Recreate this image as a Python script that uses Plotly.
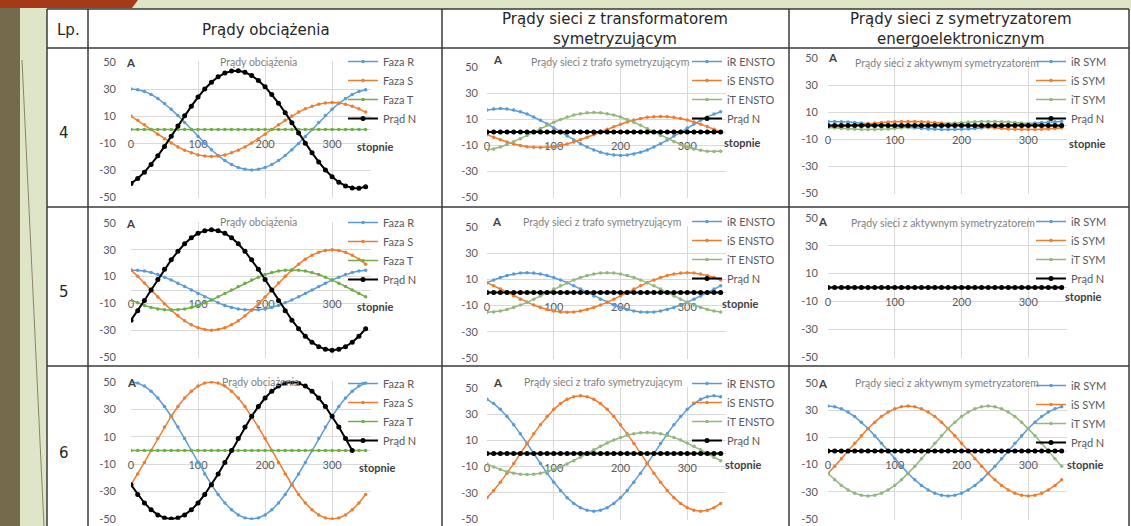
import plotly.graph_objects as go

W, H = 1131, 526

degrees = [0, 10, 20, 30, 40, 50, 60, 70, 80, 90, 100, 110, 120, 130, 140, 150, 160, 170,
           180, 190, 200, 210, 220, 230, 240, 250, 260, 270, 280, 290, 300, 310, 320, 330, 340, 350]
x_ticks = [0, 100, 200, 300]
y_ticks = [-50, -30, -10, 10, 30, 50]
y_tick_text = ["-50", "-30", "-10", "10", "30", "50"]

# ---------------- Row 4 ----------------
load4_R = [30, 29.5, 28.2, 26, 23, 19.3, 15, 10.3, 5.2, 0, -5.2, -10.3, -15, -19.3, -23, -26, -28.2, -29.5,
           -30, -29.5, -28.2, -26, -23, -19.3, -15, -10.3, -5.2, 0, 5.2, 10.3, 15, 19.3, 23, 26, 28.2, 29.5]
load4_S = [10, 6.8, 3.5, 0, -3.5, -6.8, -10, -12.9, -15.3, -17.3, -18.8, -19.7, -20, -19.7, -18.8, -17.3, -15.3, -12.9,
           -10, -6.8, -3.5, 0, 3.5, 6.8, 10, 12.9, 15.3, 17.3, 18.8, 19.7, 20, 19.7, 18.8, 17.3, 15.3, 12.9]
load4_T = [0, 0, 0, 0, 0, 0, 0, 0, 0, 0, 0, 0, 0, 0, 0, 0, 0, 0,
           0, 0, 0, 0, 0, 0, 0, 0, 0, 0, 0, 0, 0, 0, 0, 0, 0, 0]
load4_N = [-40, -36.3, -31.7, -26, -19.5, -12.5, -5, 2.6, 10.1, 17.3, 24, 30, 35, 39, 41.8, 43.3, 43.5, 42.4,
           40, 36.3, 31.7, 26, 19.5, 12.5, 5, -2.6, -10.1, -17.3, -24, -30, -35, -39, -41.8, -43.3, -43.5, -42.4]

ensto4_R = [16.9, 17.7, 18, 17.7, 16.9, 15.6, 13.8, 11.6, 9, 6.2, 3.1, 0, -3.1, -6.2, -9, -11.6, -13.8, -15.6,
            -16.9, -17.7, -18, -17.7, -16.9, -15.6, -13.8, -11.6, -9, -6.2, -3.1, 0, 3.1, 6.2, 9, 11.6, 13.8, 15.6]
ensto4_S = [-2.1, -4.1, -6, -7.7, -9.2, -10.4, -11.3, -11.8, -12, -11.8, -11.3, -10.4, -9.2, -7.7, -6, -4.1, -2.1, 0,
            2.1, 4.1, 6, 7.7, 9.2, 10.4, 11.3, 11.8, 12, 11.8, 11.3, 10.4, 9.2, 7.7, 6, 4.1, 2.1, 0]
ensto4_T = [-14.1, -13, -11.5, -9.6, -7.5, -5.1, -2.6, 0, 2.6, 5.1, 7.5, 9.6, 11.5, 13, 14.1, 14.8, 15, 14.8,
            14.1, 13, 11.5, 9.6, 7.5, 5.1, 2.6, 0, -2.6, -5.1, -7.5, -9.6, -11.5, -13, -14.1, -14.8, -15, -14.8]
ensto4_N = [0, 0, 0, 0, 0, 0, 0, 0, 0, 0, 0, 0, 0, 0, 0, 0, 0, 0,
            0, 0, 0, 0, 0, 0, 0, 0, 0, 0, 0, 0, 0, 0, 0, 0, 0, 0]

sym4_R = [3, 3, 2.8, 2.6, 2.3, 1.9, 1.5, 1, 0.5, 0, -0.5, -1, -1.5, -1.9, -2.3, -2.6, -2.8, -3,
          -3, -3, -2.8, -2.6, -2.3, -1.9, -1.5, -1, -0.5, 0, 0.5, 1, 1.5, 1.9, 2.3, 2.6, 2.8, 3]
sym4_S = [-1.5, -1, -0.5, 0, 0.5, 1, 1.5, 1.9, 2.3, 2.6, 2.8, 3, 3, 3, 2.8, 2.6, 2.3, 1.9,
          1.5, 1, 0.5, 0, -0.5, -1, -1.5, -1.9, -2.3, -2.6, -2.8, -3, -3, -3, -2.8, -2.6, -2.3, -1.9]
sym4_T = [-1.5, -1.9, -2.3, -2.6, -2.8, -3, -3, -3, -2.8, -2.6, -2.3, -1.9, -1.5, -1, -0.5, 0, 0.5, 1,
          1.5, 1.9, 2.3, 2.6, 2.8, 3, 3, 3, 2.8, 2.6, 2.3, 1.9, 1.5, 1, 0.5, 0, -0.5, -1]
sym4_N = [0, 0, 0, 0, 0, 0, 0, 0, 0, 0, 0, 0, 0, 0, 0, 0, 0, 0,
          0, 0, 0, 0, 0, 0, 0, 0, 0, 0, 0, 0, 0, 0, 0, 0, 0, 0]

# ---------------- Row 5 ----------------
load5_R = [15, 14.8, 14.1, 13, 11.5, 9.6, 7.5, 5.1, 2.6, 0, -2.6, -5.1, -7.5, -9.6, -11.5, -13, -14.1, -14.8,
           -15, -14.8, -14.1, -13, -11.5, -9.6, -7.5, -5.1, -2.6, 0, 2.6, 5.1, 7.5, 9.6, 11.5, 13, 14.1, 14.8]
load5_S = [15, 10.3, 5.2, 0, -5.2, -10.3, -15, -19.3, -23, -26, -28.2, -29.5, -30, -29.5, -28.2, -26, -23, -19.3,
           -15, -10.3, -5.2, 0, 5.2, 10.3, 15, 19.3, 23, 26, 28.2, 29.5, 30, 29.5, 28.2, 26, 23, 19.3]
load5_T = [-7.5, -9.6, -11.5, -13, -14.1, -14.8, -15, -14.8, -14.1, -13, -11.5, -9.6, -7.5, -5.1, -2.6, 0, 2.6, 5.1,
           7.5, 9.6, 11.5, 13, 14.1, 14.8, 15, 14.8, 14.1, 13, 11.5, 9.6, 7.5, 5.1, 2.6, 0, -2.6, -5.1]
load5_N = [-22.5, -15.4, -7.8, 0, 7.8, 15.4, 22.5, 28.9, 34.5, 39, 42.3, 44.3, 45, 44.3, 42.3, 39, 34.5, 28.9,
           22.5, 15.4, 7.8, 0, -7.8, -15.4, -22.5, -28.9, -34.5, -39, -42.3, -44.3, -45, -44.3, -42.3, -39, -34.5, -28.9]

ensto5_R = [7.5, 9.6, 11.5, 13, 14.1, 14.8, 15, 14.8, 14.1, 13, 11.5, 9.6, 7.5, 5.1, 2.6, 0, -2.6, -5.1,
            -7.5, -9.6, -11.5, -13, -14.1, -14.8, -15, -14.8, -14.1, -13, -11.5, -9.6, -7.5, -5.1, -2.6, 0, 2.6, 5.1]
ensto5_S = [7.5, 5.1, 2.6, 0, -2.6, -5.1, -7.5, -9.6, -11.5, -13, -14.1, -14.8, -15, -14.8, -14.1, -13, -11.5, -9.6,
            -7.5, -5.1, -2.6, 0, 2.6, 5.1, 7.5, 9.6, 11.5, 13, 14.1, 14.8, 15, 14.8, 14.1, 13, 11.5, 9.6]
ensto5_T = [-15, -14.8, -14.1, -13, -11.5, -9.6, -7.5, -5.1, -2.6, 0, 2.6, 5.1, 7.5, 9.6, 11.5, 13, 14.1, 14.8,
            15, 14.8, 14.1, 13, 11.5, 9.6, 7.5, 5.1, 2.6, 0, -2.6, -5.1, -7.5, -9.6, -11.5, -13, -14.1, -14.8]
ensto5_N = [0, 0, 0, 0, 0, 0, 0, 0, 0, 0, 0, 0, 0, 0, 0, 0, 0, 0,
            0, 0, 0, 0, 0, 0, 0, 0, 0, 0, 0, 0, 0, 0, 0, 0, 0, 0]

sym5_R = [0, 0, 0, 0, 0, 0, 0, 0, 0, 0, 0, 0, 0, 0, 0, 0, 0, 0,
          0, 0, 0, 0, 0, 0, 0, 0, 0, 0, 0, 0, 0, 0, 0, 0, 0, 0]
sym5_S = [0, 0, 0, 0, 0, 0, 0, 0, 0, 0, 0, 0, 0, 0, 0, 0, 0, 0,
          0, 0, 0, 0, 0, 0, 0, 0, 0, 0, 0, 0, 0, 0, 0, 0, 0, 0]
sym5_T = [0, 0, 0, 0, 0, 0, 0, 0, 0, 0, 0, 0, 0, 0, 0, 0, 0, 0,
          0, 0, 0, 0, 0, 0, 0, 0, 0, 0, 0, 0, 0, 0, 0, 0, 0, 0]
sym5_N = [0, 0, 0, 0, 0, 0, 0, 0, 0, 0, 0, 0, 0, 0, 0, 0, 0, 0,
          0, 0, 0, 0, 0, 0, 0, 0, 0, 0, 0, 0, 0, 0, 0, 0, 0, 0]

# ---------------- Row 6 ----------------
load6_R = [50, 49.2, 47, 43.3, 38.3, 32.1, 25, 17.1, 8.7, 0, -8.7, -17.1, -25, -32.1, -38.3, -43.3, -47, -49.2,
           -50, -49.2, -47, -43.3, -38.3, -32.1, -25, -17.1, -8.7, 0, 8.7, 17.1, 25, 32.1, 38.3, 43.3, 47, 49.2]
load6_S = [-25, -17.1, -8.7, 0, 8.7, 17.1, 25, 32.1, 38.3, 43.3, 47, 49.2, 50, 49.2, 47, 43.3, 38.3, 32.1,
           25, 17.1, 8.7, 0, -8.7, -17.1, -25, -32.1, -38.3, -43.3, -47, -49.2, -50, -49.2, -47, -43.3, -38.3, -32.1]
load6_T = [0, 0, 0, 0, 0, 0, 0, 0, 0, 0, 0, 0, 0, 0, 0, 0, 0, 0,
           0, 0, 0, 0, 0, 0, 0, 0, 0, 0, 0, 0, 0, 0, 0, 0, 0, 0]
load6_N = [-25, -32.1, -38.3, -43.3, -47, -49.2, -50, -49.2, -47, -43.3, -38.3, -32.1, -25, -17.1, -8.7, 0, 8.7, 17.1,
           25, 32.1, 38.3, 43.3, 47, 49.2, 50, 49.2, 47, 43.3, 38.3, 32.1, 25, 17.1, 8.7, 0, None, None]

ensto6_R = [41.4, 38.1, 33.7, 28.3, 22, 15, 7.7, 0, -7.7, -15, -22, -28.3, -33.7, -38.1, -41.4, -43.3, -44, -43.3,
            -41.4, -38.1, -33.7, -28.3, -22, -15, -7.7, 0, 7.7, 15, 22, 28.3, 33.7, 38.1, 41.4, 43.3, 44, 43.3]
ensto6_S = [-33.7, -28.3, -22, -15, -7.7, 0, 7.7, 15, 22, 28.3, 33.7, 38.1, 41.4, 43.3, 44, 43.3, 41.4, 38.1,
            33.7, 28.3, 22, 15, 7.7, 0, -7.7, -15, -22, -28.3, -33.7, -38.1, -41.4, -43.3, -44, -43.3, -41.4, -38.1]
ensto6_T = [-8, -10.3, -12.3, -13.9, -15, -15.8, -16, -15.8, -15, -13.9, -12.3, -10.3, -8, -5.5, -2.8, 0, 2.8, 5.5,
            8, 10.3, 12.3, 13.9, 15, 15.8, 16, 15.8, 15, 13.9, 12.3, 10.3, 8, 5.5, 2.8, 0, -2.8, -5.5]
ensto6_N = [0, 0, 0, 0, 0, 0, 0, 0, 0, 0, 0, 0, 0, 0, 0, 0, 0, 0,
            0, 0, 0, 0, 0, 0, 0, 0, 0, 0, 0, 0, 0, 0, 0, 0, 0, 0]

sym6_R = [33, 32.5, 31, 28.6, 25.3, 21.2, 16.5, 11.3, 5.7, 0, -5.7, -11.3, -16.5, -21.2, -25.3, -28.6, -31, -32.5,
          -33, -32.5, -31, -28.6, -25.3, -21.2, -16.5, -11.3, -5.7, 0, 5.7, 11.3, 16.5, 21.2, 25.3, 28.6, 31, 32.5]
sym6_S = [-16.5, -11.3, -5.7, 0, 5.7, 11.3, 16.5, 21.2, 25.3, 28.6, 31, 32.5, 33, 32.5, 31, 28.6, 25.3, 21.2,
          16.5, 11.3, 5.7, 0, -5.7, -11.3, -16.5, -21.2, -25.3, -28.6, -31, -32.5, -33, -32.5, -31, -28.6, -25.3, -21.2]
sym6_T = [-16.5, -21.2, -25.3, -28.6, -31, -32.5, -33, -32.5, -31, -28.6, -25.3, -21.2, -16.5, -11.3, -5.7, 0, 5.7, 11.3,
          16.5, 21.2, 25.3, 28.6, 31, 32.5, 33, 32.5, 31, 28.6, 25.3, 21.2, 16.5, 11.3, 5.7, 0, -5.7, -11.3]
sym6_N = [0, 0, 0, 0, 0, 0, 0, 0, 0, 0, 0, 0, 0, 0, 0, 0, 0, 0,
          0, 0, 0, 0, 0, 0, 0, 0, 0, 0, 0, 0, 0, 0, 0, 0, 0, 0]

# ---------------- Texts ----------------
row_labels = ["4", "5", "6"]
col_headers = ["Prądy obciążenia",
               "Prądy sieci z transformatorem<br>symetryzującym",
               "Prądy sieci z symetryzatorem<br>energoelektronicznym"]
chart_titles = ["Prądy obciążenia", "Prądy sieci z trafo symetryzującym", "Prądy sieci z aktywnym symetryzatorem"]
series_names = [["Faza R", "Faza S", "Faza T", "Prąd N"],
                ["iR ENSTO", "iS ENSTO", "iT ENSTO", "Prąd N"],
                ["iR SYM", "iS SYM", "iT SYM", "Prąd N"]]
grid_data = [
    [[load4_R, load4_S, load4_T, load4_N], [ensto4_R, ensto4_S, ensto4_T, ensto4_N], [sym4_R, sym4_S, sym4_T, sym4_N]],
    [[load5_R, load5_S, load5_T, load5_N], [ensto5_R, ensto5_S, ensto5_T, ensto5_N], [sym5_R, sym5_S, sym5_T, sym5_N]],
    [[load6_R, load6_S, load6_T, load6_N], [ensto6_R, ensto6_S, ensto6_T, ensto6_N], [sym6_R, sym6_S, sym6_T, sym6_N]],
]

# ---------------- Layout geometry (pixels) ----------------
COL_X0 = [131, 487, 828]
COL_W = [240, 239, 239]
X_MAX = 358
ROW_Y = [[(62, 197), (67, 197), (58, 193)],
         [(223, 357), (227, 358), (218, 357)],
         [(382, 519), (388, 519), (383, 519)]]
YTICK_STANDOFF = [14, 8, 9]
LEG_TEXT_X = [383, 727, 1071]
LEG_FIRST_Y = [[58, 58, 58], [219, 218, 218], [380, 380, 382]]
A_POS = [[(131, 62), (498, 60), (833, 58)],
         [(131, 223), (497, 222), (823, 222)],
         [(132, 382), (498, 382), (823, 383)]]
TITLE_POS = [[(258, 62), (610, 62), (947, 63)],
             [(258, 222), (602, 222), (943, 223)],
             [(260, 382), (603, 382), (947, 383)]]
STOP_POS = [[(355, 146), (722, 142), (1067, 143)],
            [(355, 306), (720, 303), (1063, 296)],
            [(357, 467), (723, 464), (1065, 464)]]

def px(x):
    return x / W

def py(y):
    return 1 - y / H

colors_load = ["#5B9BD5", "#ED7D31", "#70AD47", "#000000"]
colors_net = ["#5B9BD5", "#ED7D31", "#93B77F", "#000000"]

TICK_FONT = dict(family="Lato", size=11, color="#595959")
GRID = "#D9D9D9"

fig = go.Figure()
layout = dict(
    template="none",
    width=W, height=H, margin=dict(l=0, r=0, t=0, b=0, pad=0, autoexpand=False),
    paper_bgcolor="#DEE6C7", plot_bgcolor="rgba(0,0,0,0)",
    showlegend=True, hovermode=False,
)
annotations = []
k = 0
for r in range(3):
    for c in range(3):
        k += 1
        xa = "x" if k == 1 else f"x{k}"
        ya = "y" if k == 1 else f"y{k}"
        lg = "legend" if k == 1 else f"legend{k}"
        cols = colors_load if c == 0 else colors_net
        for i, (nm, vals) in enumerate(zip(series_names[c], grid_data[r][c])):
            is_n = (i == 3)
            fig.add_trace(go.Scatter(
                x=degrees, y=vals, name=nm, mode="lines+markers",
                xaxis=xa, yaxis=ya, legend=lg,
                line=dict(color=cols[i], width=2 if is_n else 1.5),
                marker=dict(color=cols[i], size=5 if is_n else 3.5, symbol="circle"),
            ))
        ytop, ybot = ROW_Y[r][c]
        pad = 0.5 * (ybot - ytop) / 100.0
        x0 = COL_X0[c]
        x1 = x0 + COL_W[c]
        zero_y = (ytop + ybot) / 2.0
        xkey = "xaxis" if k == 1 else f"xaxis{k}"
        ykey = "yaxis" if k == 1 else f"yaxis{k}"
        layout[xkey] = dict(
            domain=[px(x0), px(x1)], range=[0, X_MAX], anchor="free", position=py(zero_y),
            tickmode="array", tickvals=x_ticks, showgrid=True, gridcolor=GRID, gridwidth=1,
            zeroline=False, showline=False, ticks="", ticklabelstandoff=6, automargin=False,
            tickfont=TICK_FONT, layer="below traces", fixedrange=True,
        )
        layout[ykey] = dict(
            domain=[py(ybot + pad), py(ytop - pad)], range=[-50.5, 50.5], anchor=xa,
            tickmode="array", tickvals=y_ticks, ticktext=y_tick_text,
            showgrid=True, gridcolor=GRID, gridwidth=1,
            zeroline=True, zerolinecolor=GRID, zerolinewidth=1, showline=False, ticks="", automargin=False,
            ticklabelstandoff=YTICK_STANDOFF[c], tickfont=TICK_FONT, layer="below traces", fixedrange=True,
        )
        layout[lg] = dict(
            x=px(LEG_TEXT_X[c] - 40), y=py(LEG_FIRST_Y[r][c] - 11), xanchor="left", yanchor="top",
            bgcolor="rgba(0,0,0,0)", borderwidth=0, itemwidth=30, tracegroupgap=0,
            font=dict(family="Lato", size=11, color="#595959"), traceorder="normal",
            itemclick=False, itemdoubleclick=False,
        )
        tx, ty = TITLE_POS[r][c]
        annotations.append(dict(text=chart_titles[c], x=px(tx), y=py(ty), xref="paper", yref="paper",
                                xanchor="center", yanchor="middle", showarrow=False,
                                font=dict(family="Lato", size=10.5, color="#7F7F7F")))
        axp, ayp = A_POS[r][c]
        annotations.append(dict(text="A", x=px(axp), y=py(ayp), xref="paper", yref="paper",
                                xanchor="center", yanchor="middle", showarrow=False,
                                font=dict(family="Lato", size=11.5, color="#404040", weight="bold")))
        sx, sy = STOP_POS[r][c]
        annotations.append(dict(text="stopnie", x=px(sx), y=py(sy), xref="paper", yref="paper",
                                xanchor="left", yanchor="middle", showarrow=False,
                                font=dict(family="Lato", size=11, color="#404040", weight="bold")))

# Table header texts
HEADER_FONT = dict(family="DejaVu Sans", size=15, color="#262626")
annotations.append(dict(text="Lp.", x=px(68), y=py(30), xref="paper", yref="paper", xanchor="center",
                        yanchor="middle", showarrow=False, font=HEADER_FONT))
header_centers = [(266, 30), (615, 29), (961, 29)]
for (hx, hy), txt in zip(header_centers, col_headers):
    annotations.append(dict(text=txt, x=px(hx), y=py(hy), xref="paper", yref="paper", xanchor="center",
                            yanchor="middle", showarrow=False, font=HEADER_FONT))
row_label_y = [133, 292, 453]
for lab, ry in zip(row_labels, row_label_y):
    annotations.append(dict(text=lab, x=px(57), y=py(ry), xref="paper", yref="paper", xanchor="left",
                            yanchor="middle", showarrow=False,
                            font=dict(family="DejaVu Sans", size=15, color="#262626")))

# Slide background and table frame
shapes = [
    dict(type="rect", xref="paper", yref="paper", x0=0, x1=px(20), y0=0, y1=py(8),
         fillcolor="#746B4C", line=dict(width=0), layer="below"),
    dict(type="path", xref="paper", yref="paper",
         path=f"M 0 1 L {px(138)} 1 L {px(132)} {py(8)} L 0 {py(8)} Z",
         fillcolor="#A53A18", line=dict(width=0), layer="below"),
    dict(type="line", xref="paper", yref="paper", x0=px(22), y0=py(60), x1=px(44), y1=py(526),
         line=dict(color="#8A8466", width=1), layer="below"),
    dict(type="rect", xref="paper", yref="paper", x0=px(47), x1=1, y0=0, y1=py(9),
         fillcolor="#FFFFFF", line=dict(width=0), layer="below"),
]
LINE = dict(color="#3A3A3A", width=1.5)
v_lines = [47, 88, 442, 789, 1129]
for vx in v_lines:
    shapes.append(dict(type="line", xref="paper", yref="paper", x0=px(vx), x1=px(vx), y0=0, y1=py(9), line=LINE))
h_lines = [9, 48, 207, 366]
for hy in h_lines:
    shapes.append(dict(type="line", xref="paper", yref="paper", x0=px(47), x1=px(1129), y0=py(hy), y1=py(hy), line=LINE))

layout["annotations"] = annotations
layout["shapes"] = shapes
fig.update_layout(**layout)

fig.write_html("out.html", post_script="document.body.style.margin='0';")
